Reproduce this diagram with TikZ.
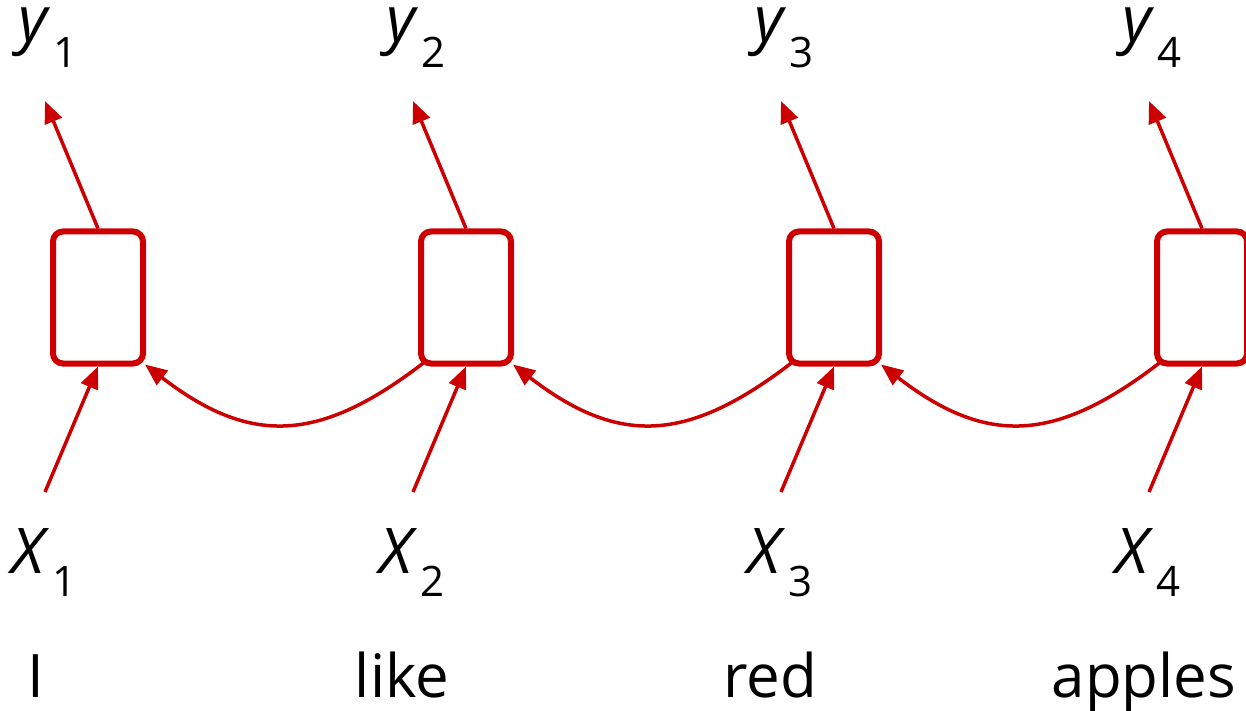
\documentclass[tikz,border=0pt]{standalone}
\usepackage{fontspec}
\setmainfont{Open Sans}
\usetikzlibrary{arrows.meta,calc}
\definecolor{rnnred}{HTML}{CC0000}
\newcommand{\subsz}{\fontsize{42}{42}\selectfont}
\tikzset{
  cell/.style={draw=rnnred, line width=6pt, rounded corners=10pt, minimum width=90pt, minimum height=132pt, inner sep=0pt},
  flow/.style={draw=rnnred, line width=3.5pt, -{Triangle[length=22pt,width=18pt]}},
  lbl/.style={inner sep=0pt, anchor=base west, font=\fontsize{63}{63}\selectfont},
  word/.style={inner sep=0pt, anchor=base, font=\fontsize{60}{60}\selectfont},
}
\begin{document}
\begin{tikzpicture}[x=1pt,y=-1pt]
\useasboundingbox (0,0) rectangle (1246,711);
\foreach \i/\w/\wx in {1/I/36,2/like/402,3/red/770,4/apples/1144} {
  \pgfmathsetmacro\dx{368*(\i-1)}
  \node[cell] (b\i) at (98+\dx,297.5) {};
  \coordinate (t\i) at (45+\dx,101);
  \coordinate (s\i) at (45+\dx,492);
  \node[lbl] (y\i) at (18+\dx,42) {{\itshape y}\kern6pt\raisebox{-26pt}{\subsz\i}};
  \node[lbl] (x\i) at (11+\dx,573) {{\itshape X}\kern8pt\raisebox{-23pt}{\subsz\i}};
  \node[word] (w\i) at (\wx,697) {\w};
  \draw[flow] (b\i.north) -- (t\i);
  \draw[flow] (s\i) -- (b\i.south);
}
\foreach \i in {2,3,4} {
  \pgfmathtruncatemacro\j{\i-1}
  \draw[flow] ([xshift=6pt,yshift=4pt]b\i.south west) .. controls +(-105,81) and +(105,81) .. ([xshift=-1pt,yshift=2pt]b\j.south east);
}
\end{tikzpicture}
\end{document}
